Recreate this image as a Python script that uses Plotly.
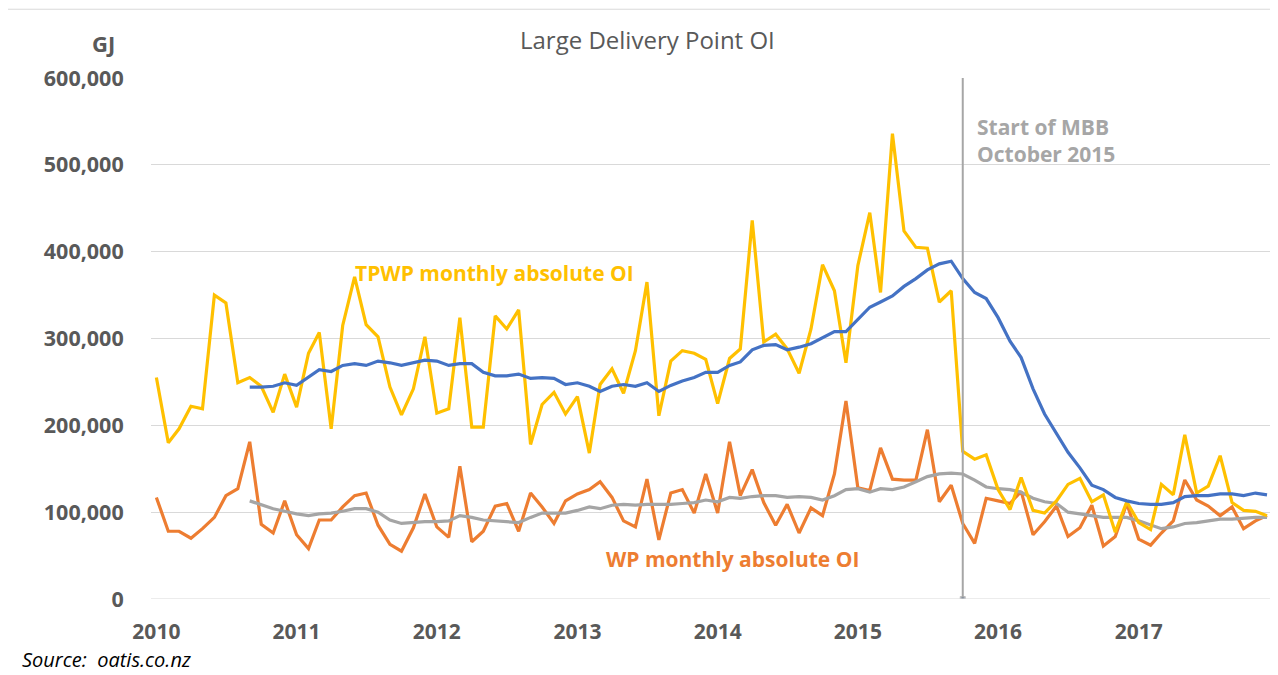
import pandas as pd
import plotly.graph_objects as go

# 月度数据（GJ），2010-01 至 2017-12
months = pd.date_range("2010-01-01", "2017-12-01", freq="MS")
year_ticks = ["2010", "2011", "2012", "2013", "2014", "2015", "2016", "2017"]

tpwp_monthly = [
    255000, 180000, 196000, 222000, 219000, 350000, 341000, 249000, 255000, 245000, 215000, 259000,
    221000, 283000, 307000, 196000, 315000, 371000, 316000, 302000, 244000, 212000, 242000, 302000,
    214000, 219000, 324000, 198000, 198000, 326000, 311000, 333000, 178000, 224000, 238000, 213000,
    233000, 168000, 247000, 265000, 237000, 286000, 365000, 211000, 274000, 286000, 283000, 276000,
    225000, 277000, 288000, 436000, 296000, 305000, 288000, 260000, 311000, 385000, 355000, 272000,
    384000, 445000, 353000, 536000, 424000, 405000, 404000, 342000, 355000, 170000, 161000, 166000,
    126000, 103000, 140000, 102000, 99000, 113000, 132000, 139000, 112000, 120000, 77000, 112000,
    88000, 80000, 132000, 120000, 189000, 122000, 130000, 165000, 111000, 102000, 101000, 96000,
]

wp_monthly = [
    117000, 78000, 78000, 70000, 81000, 94000, 119000, 127000, 181000, 86000, 76000, 113000,
    74000, 58000, 91000, 91000, 106000, 119000, 122000, 85000, 63000, 55000, 82000, 121000,
    83000, 71000, 153000, 66000, 78000, 107000, 110000, 78000, 122000, 106000, 87000, 113000,
    121000, 126000, 135000, 117000, 90000, 83000, 138000, 68000, 122000, 126000, 99000, 144000,
    99000, 181000, 119000, 149000, 111000, 85000, 109000, 76000, 105000, 96000, 144000, 228000,
    128000, 125000, 174000, 138000, 137000, 137000, 195000, 112000, 131000, 87000, 64000, 116000,
    113000, 110000, 124000, 74000, 89000, 107000, 72000, 82000, 108000, 61000, 72000, 110000,
    69000, 62000, 76000, 90000, 137000, 114000, 107000, 96000, 106000, 81000, 90000, 96000,
]

# 平均线从 2010-09 开始
tpwp_avg = [
    244000, 244000, 245000, 249000,
    246000, 255000, 264000, 262000, 269000, 271000, 269000, 274000, 272000, 269000, 272000, 275000,
    274000, 269000, 271000, 271000, 261000, 257000, 257000, 259000, 254000, 255000, 254000, 247000,
    249000, 245000, 239000, 245000, 247000, 245000, 249000, 239000, 246000, 251000, 255000, 261000,
    261000, 269000, 273000, 287000, 292000, 293000, 287000, 290000, 294000, 301000, 308000, 308000,
    322000, 336000, 342000, 349000, 360000, 369000, 379000, 386000, 389000, 369000, 353000, 346000,
    324000, 297000, 278000, 242000, 213000, 191000, 169000, 151000, 131000, 126000, 117000, 113000,
    110000, 109000, 109000, 111000, 118000, 119000, 119000, 121000, 121000, 119000, 122000, 120000,
]

wp_avg = [
    113000, 109000, 104000, 101000,
    98000, 96000, 98000, 99000, 101000, 104000, 104000, 100000, 91000, 87000, 88000, 89000,
    89000, 90000, 96000, 94000, 91000, 90000, 89000, 88000, 94000, 99000, 99000, 99000,
    102000, 106000, 104000, 108000, 109000, 108000, 109000, 109000, 109000, 110000, 111000, 114000,
    112000, 117000, 116000, 118000, 119000, 119000, 117000, 118000, 117000, 114000, 119000, 126000,
    127000, 123000, 127000, 126000, 129000, 135000, 141000, 144000, 145000, 144000, 137000, 129000,
    127000, 126000, 123000, 116000, 112000, 110000, 100000, 98000, 96000, 94000, 94000, 94000,
    90000, 85000, 81000, 83000, 87000, 88000, 90000, 92000, 92000, 93000, 94000, 94000,
]

mbb_start = "2015-10-01"

avg_months = months[8:]
FONT = "Open Sans"
GREY_TXT = "#595959"

fig = go.Figure()

fig.add_trace(go.Scatter(x=months, y=wp_monthly, mode="lines", name="WP monthly absolute OI",
                         line=dict(color="#ED7D31", width=3.2)))
fig.add_trace(go.Scatter(x=avg_months, y=wp_avg, mode="lines", name="WP average",
                         line=dict(color="#A5A5A5", width=3.2)))
fig.add_trace(go.Scatter(x=months, y=tpwp_monthly, mode="lines", name="TPWP monthly absolute OI",
                         line=dict(color="#FFC000", width=3.2)))
fig.add_trace(go.Scatter(x=avg_months, y=tpwp_avg, mode="lines", name="TPWP average",
                         line=dict(color="#4472C4", width=3.2)))

# MBB 起始竖线
fig.add_trace(go.Scatter(x=[mbb_start, mbb_start], y=[0, 600000], mode="lines+markers",
                         line=dict(color="#A6A6A6", width=2),
                         marker=dict(size=[5, 0], color="#7F8A99", symbol="square"),
                         showlegend=False, hoverinfo="skip"))

# 页面 body 自带 8px 边距，这里整体缩小 8px 抵消
fig.update_layout(
    width=1270,
    height=667,
    margin=dict(l=143, r=6, t=70, b=76),
    paper_bgcolor="white",
    plot_bgcolor="white",
    showlegend=False,
    font=dict(family=FONT, color=GREY_TXT),
    xaxis=dict(
        range=["2009-12-18", "2017-12-14"],
        tickvals=[f"{y}-01-01" for y in year_ticks],
        ticktext=year_ticks,
        showgrid=False,
        zeroline=False,
        showline=False,
        ticks="outside",
        ticklen=14,
        tickcolor="rgba(0,0,0,0)",
        tickfont=dict(family=FONT, size=21, color=GREY_TXT, weight="bold"),
    ),
    yaxis=dict(
        range=[0, 600000],
        tickvals=[0, 100000, 200000, 300000, 400000, 500000, 600000],
        tickformat=",",
        showgrid=True,
        gridcolor="#D9D9D9",
        gridwidth=1,
        zeroline=False,
        showline=False,
        ticks="outside",
        ticklen=22,
        tickcolor="rgba(0,0,0,0)",
        tickfont=dict(family=FONT, size=21.5, color=GREY_TXT, weight="bold"),
    ),
    shapes=[
        dict(type="line", xref="paper", yref="y", x0=0, x1=1, y0=0, y1=0,
             line=dict(color="#D9D9D9", width=1)),
        dict(type="rect", xref="paper", yref="paper", x0=-0.1285, x1=1.2, y0=-0.5, y1=1.132,
             line=dict(color="#D9D9D9", width=1)),
    ],
    annotations=[
        dict(text="Large Delivery Point OI", xref="paper", yref="paper", x=0.443, y=1.073,
             xanchor="center", yanchor="middle", showarrow=False,
             font=dict(family=FONT, size=24, color=GREY_TXT)),
        dict(text="<b>GJ</b>", xref="paper", yref="paper", x=-0.042, y=1.068,
             xanchor="center", yanchor="middle", showarrow=False,
             font=dict(family=FONT, size=22, color=GREY_TXT)),
        dict(text="<b>TPWP monthly absolute OI</b>", xref="paper", yref="paper", x=0.306, y=0.626,
             xanchor="center", yanchor="middle", showarrow=False,
             font=dict(family=FONT, size=21, color="#FFC000")),
        dict(text="<b>WP monthly absolute OI</b>", xref="paper", yref="paper", x=0.519, y=0.076,
             xanchor="center", yanchor="middle", showarrow=False,
             font=dict(family=FONT, size=21, color="#ED7D31")),
        dict(text="<b>Start of MBB<br>October 2015</b>", xref="paper", yref="paper", x=0.735, y=0.88,
             xanchor="left", yanchor="middle", align="left", showarrow=False,
             font=dict(family=FONT, size=21, color="#A6A6A6")),
        dict(text="<i>Source:  oatis.co.nz</i>", xref="paper", yref="paper", x=-0.117, y=-0.117,
             xanchor="left", yanchor="middle", showarrow=False,
             font=dict(family=FONT, size=20, color="#000000")),
    ],
)

fig.write_html("out.html")
